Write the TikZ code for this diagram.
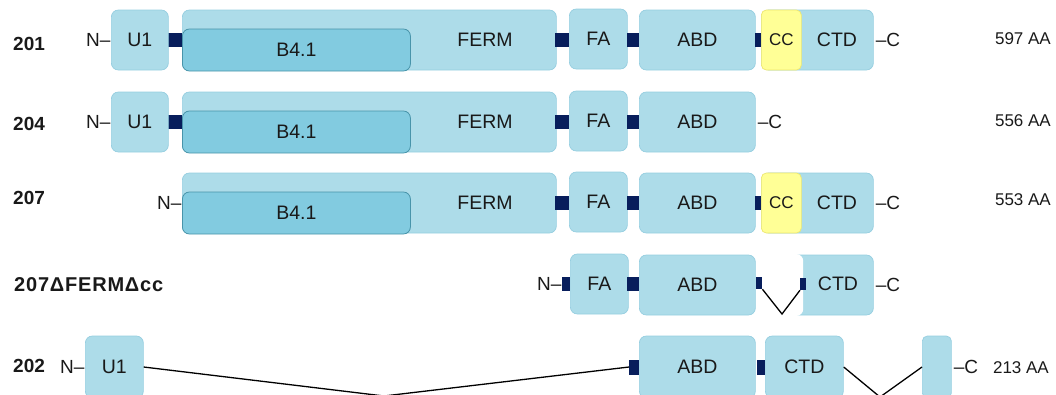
\documentclass[tikz,border=0pt]{standalone}
\usepackage{fontspec}
\setmainfont{Liberation Sans}
\definecolor{domfill}{RGB}{173,220,233}
\definecolor{domedge}{RGB}{150,206,224}
\definecolor{bfill}{RGB}{130,203,224}
\definecolor{bedge}{RGB}{72,148,170}
\definecolor{navy}{RGB}{8,30,92}
\definecolor{ccfill}{RGB}{255,255,150}
\definecolor{ccedge}{RGB}{240,232,110}
\definecolor{ink}{RGB}{25,25,25}
\tikzset{
  dom/.style={draw=domedge, fill=domfill, rounded corners=7pt, line width=0.7pt,
    minimum height=60pt, inner sep=0pt, anchor=west, text=ink,
    font=\fontsize{19.5}{20}\selectfont},
  bbox/.style={draw=bedge, fill=bfill, rounded corners=7pt, line width=0.8pt,
    minimum height=42pt, inner sep=0pt, anchor=west, text=ink,
    font=\fontsize{19.5}{20}\selectfont},
  ccbox/.style={draw=ccedge, fill=ccfill, rounded corners=5pt, line width=0.7pt,
    minimum height=60pt, minimum width=40pt, inner sep=0pt, anchor=west, text=ink,
    font=\fontsize{17}{18}\selectfont},
  cover/.style={fill=white, rounded corners=7pt, minimum height=62pt,
    inner sep=0pt, anchor=west},
  lnk/.style={fill=navy, minimum height=14pt, inner sep=0pt, anchor=west},
  dtext/.style={text=ink, inner sep=0pt, font=\fontsize{19.5}{20}\selectfont},
  rowlab/.style={text=ink, inner sep=0pt, anchor=west, font=\fontsize{19}{20}\selectfont\bfseries},
  nterm/.style={text=ink, inner sep=0.3pt, anchor=east, font=\fontsize{19}{20}\selectfont},
  cterm/.style={text=ink, inner sep=0pt, anchor=west, xshift=2pt, font=\fontsize{19}{20}\selectfont},
  aa/.style={text=ink, inner sep=0pt, anchor=east, font=\fontsize{17}{18}\selectfont},
  splice/.style={draw=black, line width=1.3pt}
}
\begin{document}
\begin{tikzpicture}[x=1pt,y=-1pt]
\useasboundingbox (0,0) rectangle (1056,394);
\clip (0,0) rectangle (1056,394);

% ---- isoform 201 ----
\node[rowlab] (lab1) at (13,44) {201};
\node[lnk, minimum width=14] (k1a) at (168,40) {};
\node[dom, minimum width=57] (u1a) at (111,40) {U1};
\node[nterm] (n1) at (u1a.west) {N–};
\node[dom, minimum width=374] (fe1) at (182,40) {};
\node[bbox, minimum width=228] (b1) at (182,50) {B4.1};
\node[dtext] (fet1) at (485,40) {FERM};
\node[lnk, minimum width=14] (k1b) at (555,40) {};
\node[dom, minimum width=58] (fa1) at (569,39) {FA};
\node[lnk, minimum width=12] (k1c) at (627,40) {};
\node[dom, minimum width=116] (ab1) at (639,40) {ABD};
\node[lnk, minimum width=6] (k1d) at (755,40) {};
\node[dom, minimum width=112] (ct1) at (761,40) {};
\node[dtext] (ctt1) at (837,40) {CTD};
\node[ccbox] (cc1) at (761,40) {CC};
\node[cterm] (c1) at (ct1.east) {–C};
\node[aa] (aa1) at (1051,39) {597 AA};

% ---- isoform 204 ----
\node[rowlab] (lab2) at (13,124) {204};
\node[lnk, minimum width=14] (k2a) at (168,122) {};
\node[dom, minimum width=57] (u2) at (111,122) {U1};
\node[nterm] (n2) at (u2.west) {N–};
\node[dom, minimum width=374] (fe2) at (182,122) {};
\node[bbox, minimum width=228] (b2) at (182,132) {B4.1};
\node[dtext] (fet2) at (485,122) {FERM};
\node[lnk, minimum width=14] (k2b) at (555,122) {};
\node[dom, minimum width=58] (fa2) at (569,121) {FA};
\node[lnk, minimum width=12] (k2c) at (627,122) {};
\node[dom, minimum width=116] (ab2) at (639,122) {ABD};
\node[cterm] (c2) at (ab2.east) {–C};
\node[aa] (aa2) at (1051,121) {556 AA};

% ---- isoform 207 ----
\node[rowlab] (lab3) at (13,198) {207};
\node[dom, minimum width=374] (fe3) at (182,203) {};
\node[nterm] (n3) at (fe3.west) {N–};
\node[bbox, minimum width=228] (b3) at (182,213) {B4.1};
\node[dtext] (fet3) at (485,203) {FERM};
\node[lnk, minimum width=14] (k3b) at (555,203) {};
\node[dom, minimum width=58] (fa3) at (569,202) {FA};
\node[lnk, minimum width=12] (k3c) at (627,203) {};
\node[dom, minimum width=116] (ab3) at (639,203) {ABD};
\node[lnk, minimum width=6] (k3d) at (755,203) {};
\node[dom, minimum width=112] (ct3) at (761,203) {};
\node[dtext] (ctt3) at (837,203) {CTD};
\node[ccbox] (cc3) at (761,203) {CC};
\node[cterm] (c3) at (ct3.east) {–C};
\node[aa] (aa3) at (1051,200) {553 AA};

% ---- isoform 207 lacking FERM and CC ----
\node[rowlab, font=\fontsize{20}{20}\selectfont\bfseries\addfontfeature{LetterSpace=4}] (lab4) at (14,285) {207ΔFERMΔcc};
\node[lnk, minimum width=8] (k4a) at (562,284) {};
\node[nterm] (n4) at (k4a.west) {N–};
\node[dom, minimum width=58] (fa4) at (570,284) {FA};
\node[lnk, minimum width=12] (k4b) at (627,284) {};
\node[dom, minimum width=116] (ab4) at (639,285) {ABD};
\node[dom, minimum width=112] (ct4) at (761,285) {};
\node[cover, minimum width=44] (cv4) at (759,285) {};
\node[dtext] (ctt4) at (838,284) {CTD};
\node[lnk, minimum width=6, minimum height=12] (k4d) at (756,283) {};
\node[lnk, minimum width=6, minimum height=12] (k4e) at (800,284) {};
\coordinate (v4) at (782,314);
\draw[splice] (k4d.south east) -- (v4) -- (k4e.south west);
\node[cterm] (c4) at (ct4.east) {–C};

% ---- isoform 202 ----
\node[rowlab] (lab5) at (13,366) {202};
\node[dom, minimum width=58, minimum height=62] (u5) at (85,367) {U1};
\node[nterm] (n5) at (u5.west) {N–};
\node[lnk, minimum width=10, minimum height=15] (k5a) at (629,367) {};
\node[dom, minimum width=116, minimum height=62] (ab5) at (639,367) {ABD};
\node[lnk, minimum width=8, minimum height=15] (k5b) at (757,367) {};
\node[dom, minimum width=78, minimum height=62] (ct5) at (765,367) {CTD};
\node[dom, minimum width=29, minimum height=62, rounded corners=5pt] (sm5) at (922,367) {};
\node[cterm] (c5) at (sm5.east) {–C};
\node[aa] (aa5) at (1049,368) {213 AA};
\coordinate (v5a) at (384,396);
\coordinate (v5b) at (880,397);
\draw[splice] (u5.east) -- (v5a) -- (k5a.west);
\draw[splice] (ct5.east) -- (v5b) -- (sm5.west);
\end{tikzpicture}
\end{document}
